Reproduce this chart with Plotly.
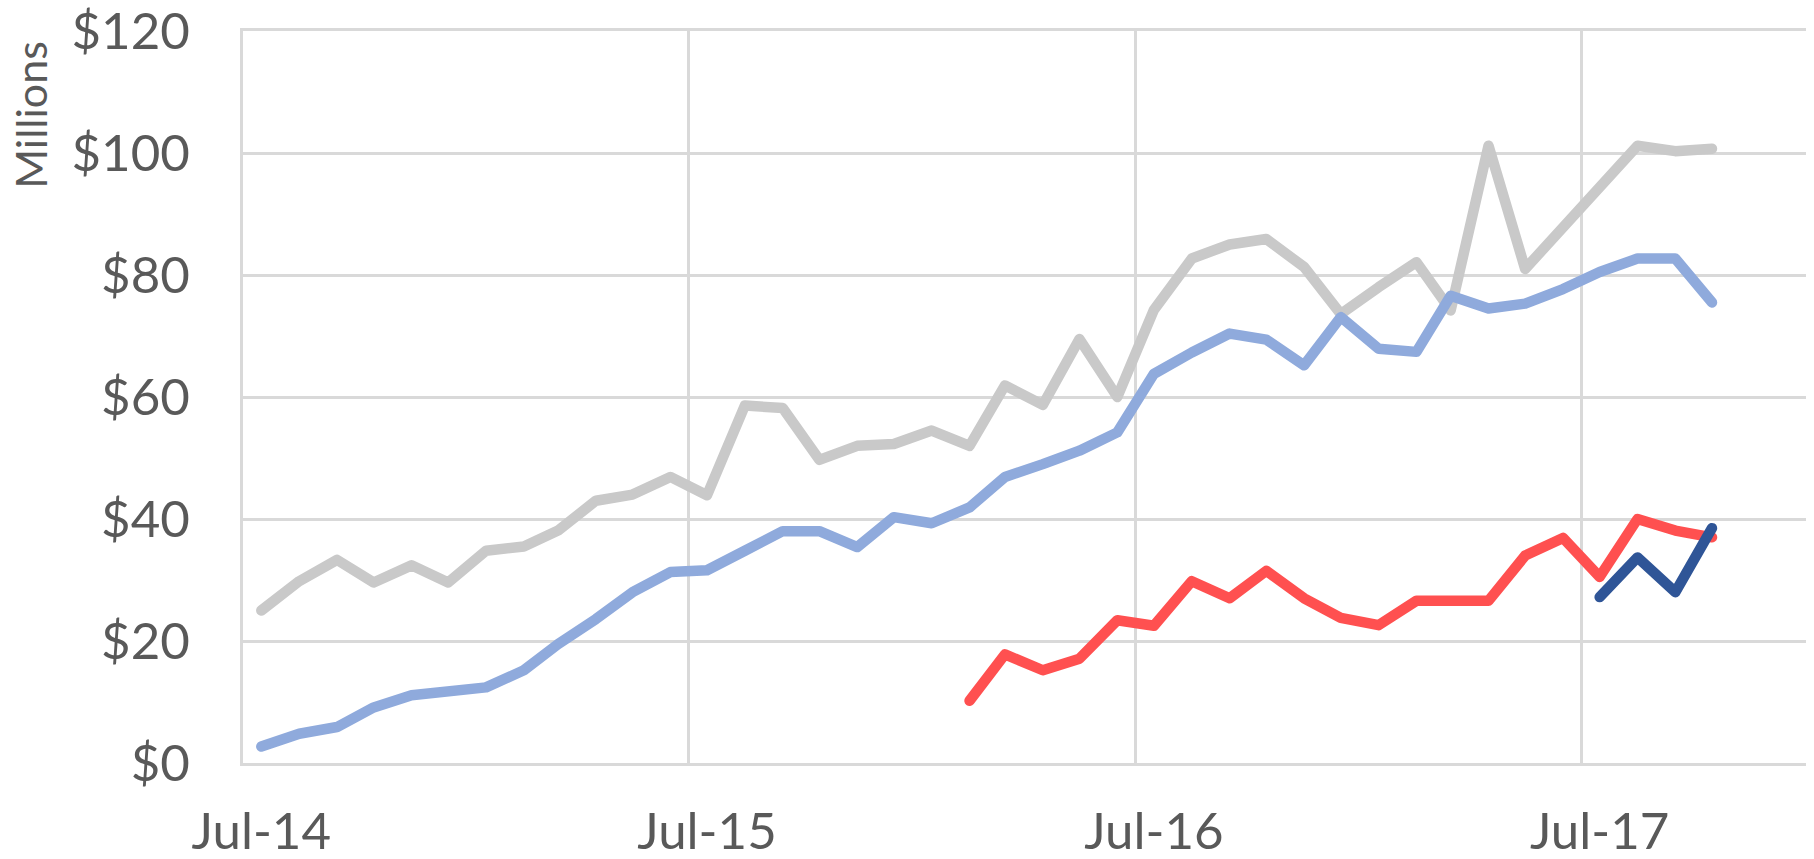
import pandas as pd
import plotly.graph_objects as go

# monthly values, $ millions (Jul-14 .. Oct-17), plotted mid-month
months_all = pd.date_range("2014-07-01", periods=40, freq="MS") + pd.Timedelta(days=15)
gray_vals = [25.0, 29.8, 33.3, 29.6, 32.4, 29.6, 34.8, 35.5, 38.1, 43.0, 44.0, 46.9,
             43.9, 58.6, 58.2, 49.7, 52.0, 52.3, 54.5, 52.0, 61.9, 58.7, 69.5, 60.0,
             74.3, 82.7, 85.0, 85.9, 81.3, 73.6, 78.0, 82.1, 74.2, 101.2, 81.0, 87.6,
             94.1, 101.2, 100.3, 100.7]
blue_vals = [2.7, 4.8, 5.9, 9.1, 11.1, 11.9, 12.4, 15.2, 19.5, 23.6, 28.0, 31.3,
             31.6, 34.8, 38.0, 38.0, 35.4, 40.3, 39.3, 41.9, 46.9, 49.0, 51.2, 54.2,
             63.8, 67.3, 70.4, 69.4, 65.2, 73.1, 67.9, 67.4, 76.6, 74.5, 75.3, 77.7,
             80.5, 82.7, 82.7, 75.5]
# Feb-16 .. Oct-17
red_vals = [10.2, 17.8, 15.2, 17.1, 23.4, 22.5, 29.8, 27.0, 31.5, 27.0, 23.8, 22.6,
            26.6, 26.4, 26.6, 34.0, 36.9, 30.5, 40.0, 38.1, 37.0]
# Jul-17 .. Oct-17
navy_vals = [27.2, 33.7, 28.0, 38.5]

year_starts = ["2015-07-01", "2016-07-01", "2017-07-01"]
label_dates = ["2014-07-16", "2015-07-16", "2016-07-16", "2017-07-16"]
label_text = ["Jul-14", "Jul-15", "Jul-16", "Jul-17"]

font = "Lato, Carlito, Calibri, sans-serif"
grid = "#D9D9D9"

fig = go.Figure()
series = [
    (months_all, gray_vals, "#C9C9C9"),
    (months_all, blue_vals, "#8FAADC"),
    (months_all[19:], red_vals, "#FF5050"),
    (months_all[36:], navy_vals, "#2F5597"),
]
for xs, ys, col in series:
    fig.add_trace(go.Scatter(x=xs, y=ys, mode="lines", line=dict(color=col, width=10.5),
                             showlegend=False, hoverinfo="skip"))

fig.update_layout(
    width=1814, height=859,
    margin=dict(l=243, r=8, t=31, b=96),
    plot_bgcolor="white", paper_bgcolor="white",
    font=dict(family=font, color="#595959"),
)
fig.update_xaxes(
    type="date", range=["2014-07-01", "2018-01-01"], automargin=False,
    tickmode="array", tickvals=label_dates, ticktext=label_text,
    tickfont=dict(size=51, color="#595959"), showgrid=False,
    ticks="", ticklabelstandoff=22, ticklabeloverflow="allow",
    minor=dict(tickmode="array", tickvals=year_starts, showgrid=True,
               gridcolor=grid, gridwidth=3, ticks=""),
    showline=True, mirror=True, linecolor=grid, linewidth=3, zeroline=False,
)
fig.update_yaxes(
    range=[0, 120], dtick=20, tickprefix="$", automargin=False,
    tickfont=dict(size=51, color="#595959"),
    showgrid=True, gridcolor=grid, gridwidth=3,
    showline=True, linecolor=grid, linewidth=3,
    zeroline=False, ticks="", ticklabelstandoff=40, ticklabeloverflow="allow",
)
fig.add_annotation(text="Millions", textangle=-90, xref="paper", yref="paper",
                   x=-0.1359, y=0.885, xanchor="center", yanchor="middle",
                   showarrow=False,
                   font=dict(size=43, color="#595959", family=font))

post = """
document.body.style.margin='0';
document.querySelectorAll('.scatterlayer path.js-line').forEach(function(p){
  p.style.strokeLinecap='round'; p.style.strokeLinejoin='round';
});
"""
fig.write_html("out.html", post_script=post, config={"displayModeBar": False})
